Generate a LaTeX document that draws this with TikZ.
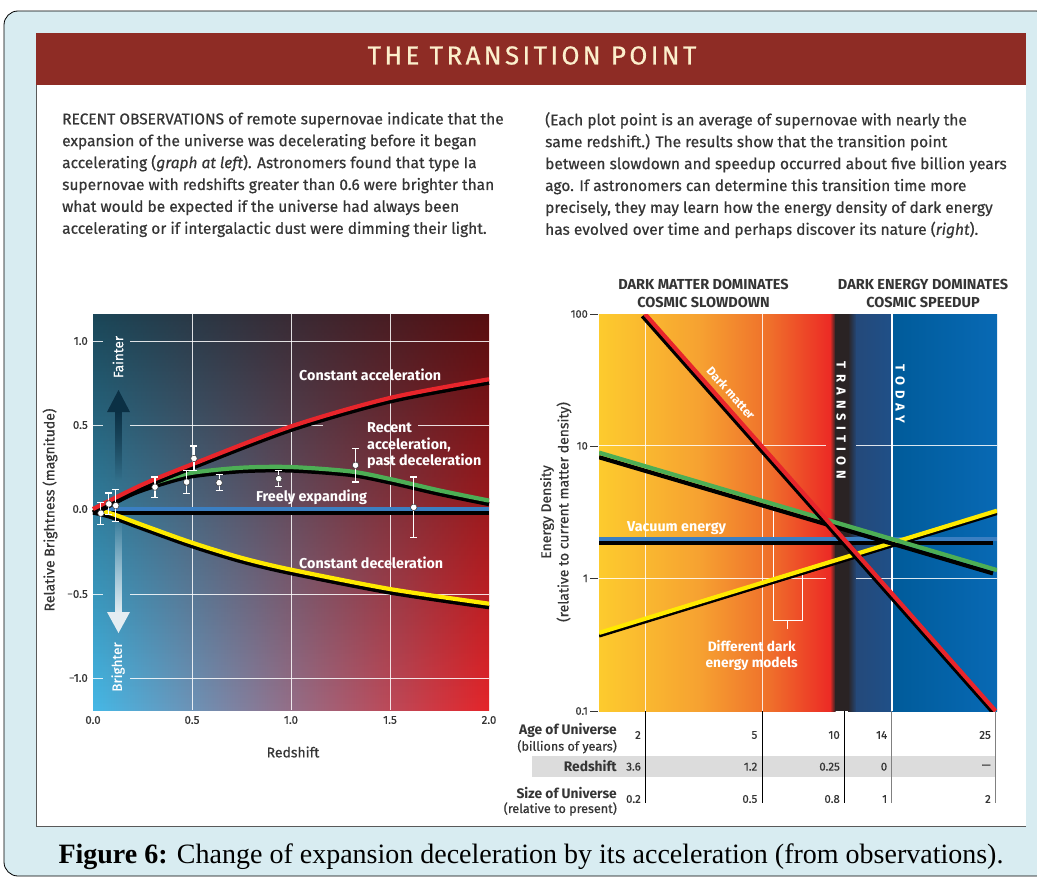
\documentclass[tikz,border=0pt]{standalone}
\usepackage{fontspec}
\setmainfont{Fira Sans}[UprightFeatures={FakeBold=0.6}, ItalicFeatures={FakeBold=0.6}]
\newfontfamily\captionfont{Liberation Serif}
\usepackage{tikz}
\usetikzlibrary{positioning, calc, fadings}

\definecolor{panelblue}{HTML}{D8ECF1}
\definecolor{titlebar}{HTML}{8E2C25}
\definecolor{titletext}{HTML}{FCEFCC}
\definecolor{ink}{HTML}{353535}
\definecolor{acccol}{HTML}{E8252B}
\definecolor{mixcol}{HTML}{4DAE55}
\definecolor{flatcol}{HTML}{3B7FC2}
\definecolor{deccol}{HTML}{FFEA00}
\definecolor{faintcol}{HTML}{0B3044}
\definecolor{brightcol}{HTML}{E4EDF2}
\definecolor{tablegrey}{HTML}{DCDCDC}
\definecolor{lblue}{HTML}{45B8E6}
\definecolor{lmid}{HTML}{A8968F}
\definecolor{lred}{HTML}{E5252A}
\definecolor{gyellow}{HTML}{FDCB2E}
\definecolor{gorange}{HTML}{F6A131}
\definecolor{gdeep}{HTML}{EF6F2B}
\definecolor{gred}{HTML}{EC2A25}
\definecolor{gband}{HTML}{2A2324}
\definecolor{gnavy}{HTML}{24497A}
\definecolor{gnavytwo}{HTML}{1F5088}
\definecolor{gblue}{HTML}{005B9A}
\definecolor{gbluetwo}{HTML}{0869B4}

\tikzfading[name=fadedown, top color=transparent!0, bottom color=transparent!100]
\tikzfading[name=fadeup, top color=transparent!100, bottom color=transparent!0]

\tikzstyle{bodytext} = [anchor=north west, inner sep=0pt, align=left, text=ink, font=\fontsize{15.5}{21.9}\selectfont]
\tikzstyle{gridline} = [white, line width=0.9pt, opacity=0.85]
\tikzstyle{blackunder} = [black, line width=4.2pt]
\tikzstyle{plotline} = [line width=4.2pt]
\tikzstyle{ticklabel} = [inner sep=0pt, text=ink, font=\fontsize{11.5}{13}\selectfont]
\tikzstyle{axistitle} = [inner sep=0pt, text=ink, font=\fontsize{14}{16}\selectfont]
\tikzstyle{curvelabel} = [inner sep=0pt, text=white, font=\bfseries\fontsize{14.3}{16.4}\selectfont]
\tikzstyle{errbar} = [white, line width=1.1pt]
\tikzstyle{snpoint} = [circle, fill=white, draw=ink, line width=0.5pt, inner sep=0pt, minimum size=6.5pt]
\tikzstyle{heading} = [inner sep=0pt, align=center, text=ink, font=\bfseries\fontsize{14.5}{17.7}\selectfont]
\tikzstyle{rowhead} = [inner sep=0pt, anchor=east, text=ink, font=\bfseries\fontsize{13.8}{15}\selectfont]
\tikzstyle{rowsub} = [inner sep=0pt, anchor=east, text=ink, font=\fontsize{12.6}{14}\selectfont]
\tikzstyle{cell} = [inner sep=0pt, anchor=east, text=ink, font=\fontsize{11.5}{13}\selectfont]
\tikzstyle{spaced} = [inner sep=0pt, text=white, rotate=-90, font=\bfseries\fontsize{13}{15}\selectfont\addfontfeature{LetterSpace=40}]

\begin{document}
\begin{tikzpicture}[x=1pt, y=-1pt]
\useasboundingbox (0,0) rectangle (1037,878);
% frame and panel
\draw[black, line width=0.8pt, fill=panelblue, rounded corners=14pt] (4,11) rectangle (1050,876);
\fill[white] (36,33) rectangle (1026,826);
\draw[gray!70!black, line width=0.8pt] (36,33) -- (36,826) -- (1026,826);
\fill[titlebar] (36,33) rectangle (1026,85);
\node[text=titletext, font=\fontsize{26}{30}\selectfont\addfontfeature{LetterSpace=13, FakeBold=1.2}] (title) at (532,55.5) {THE TRANSITION POINT};

% text columns
\node[bodytext] (lefttext) at (62,112) {RECENT OBSERVATIONS of remote supernovae indicate that the\\
expansion of the universe was decelerating before it began\\
accelerating (\textit{graph at left}). Astronomers found that type Ia\\
supernovae with redshifts greater than 0.6 were brighter than\\
what would be expected if the universe had always been\\
accelerating or if intergalactic dust were dimming their light.};
\node[bodytext] (righttext) at (545,112) {(Each plot point is an average of supernovae with nearly the\\
same redshift.) The results show that the transition point\\
between slowdown and speedup occurred about five billion years\\
ago. If astronomers can determine this transition time more\\
precisely, they may learn how the energy density of dark energy\\
has evolved over time and perhaps discover its nature (\textit{right}).};

% left graph
\shade[left color=lblue, middle color=lmid, right color=lred] (93,314) rectangle (489,710);
\fill[black, opacity=0.62, path fading=fadedown] (93,314) rectangle (489,710);
\foreach \gx in {192,291,390}
  \draw[gridline] (\gx,314) -- (\gx,710);
\foreach \gy in {341,594,678} {
  \draw[gridline] (93,\gy) -- (103,\gy);
  \draw[gridline] (130,\gy) -- (489,\gy);
}
\draw[gridline] (93,425) -- (103,425);
\draw[gridline] (130,425) -- (323,425);
\draw[gridline] (418,425) -- (489,425);

\foreach \v/\gy in {1.0/341, 0.5/425, 0.0/509, −0.5/594, −1.0/678}
  \node[ticklabel, anchor=east] (ly\gy) at (88,\gy) {\v};
\foreach \v/\gx in {0.0/93, 0.5/192, 1.0/291, 1.5/390, 2.0/489}
  \node[ticklabel] (lx\gx) at (\gx,720) {\v};
\node[axistitle, rotate=90] (ytitle) at (50,510) {Relative Brightness (magnitude)};
\node[axistitle] (xtitle) at (293,752) {Redshift};

% fainter / brighter
\fill[faintcol, path fading=fadedown] (115,410) rectangle (122,480);
\fill[faintcol] (107,412) -- (130,412) -- (118.5,390) -- cycle;
\fill[brightcol, path fading=fadeup] (115,518) rectangle (122,614);
\fill[brightcol] (107,612) -- (130,612) -- (118.5,633) -- cycle;
\node[inner sep=0pt, text=white, rotate=90, font=\fontsize{13.5}{15}\selectfont] (fainter) at (118,357) {Fainter};
\node[inner sep=0pt, text=white, rotate=90, font=\fontsize{13.5}{15}\selectfont] (brighter) at (118,667) {Brighter};

\begin{scope}[shift={(93,509)}, x=198pt, y=168.5pt]
  \draw[blackunder, yshift=-3.5pt] (0,0) -- (2,0);
  \draw[plotline, flatcol] (0,0) -- (2,0);
  \draw[blackunder, yshift=-3.5pt] plot[smooth] coordinates {(0,0) (0.1,-0.03) (0.25,-0.095) (0.5,-0.2) (0.75,-0.29) (1.0,-0.36) (1.5,-0.475) (2.0,-0.562)};
  \draw[plotline, deccol] plot[smooth] coordinates {(0,0) (0.1,-0.03) (0.25,-0.095) (0.5,-0.2) (0.75,-0.29) (1.0,-0.36) (1.5,-0.475) (2.0,-0.562)};
  \draw[blackunder, yshift=-3.5pt] plot[smooth] coordinates {(0,0) (0.05,0.02) (0.2,0.11) (0.35,0.17) (0.5,0.215) (0.75,0.245) (1.0,0.249) (1.3,0.223) (1.5,0.178) (1.75,0.11) (2.0,0.05)};
  \draw[plotline, mixcol] plot[smooth] coordinates {(0,0) (0.05,0.02) (0.2,0.11) (0.35,0.17) (0.5,0.215) (0.75,0.245) (1.0,0.249) (1.3,0.223) (1.5,0.178) (1.75,0.11) (2.0,0.05)};
  \draw[blackunder, yshift=-3.5pt] plot[smooth] coordinates {(0,0) (0.25,0.145) (0.5,0.265) (1.0,0.49) (1.5,0.659) (2.0,0.77)};
  \draw[plotline, acccol] plot[smooth] coordinates {(0,0) (0.25,0.145) (0.5,0.265) (1.0,0.49) (1.5,0.659) (2.0,0.77)};
  % supernova averages
  \foreach \z/\m/\e [count=\i] in {0.04/-0.025/0.066, 0.08/0.03/0.065, 0.115/0.02/0.095, 0.313/0.13/0.06, 0.473/0.16/0.07, 0.51/0.30/0.074, 0.637/0.156/0.048, 0.938/0.18/0.048, 1.326/0.26/0.10, 1.62/0.01/0.18} {
    \draw[errbar] (\z,\m-\e) -- (\z,\m+\e);
    \draw[errbar] (\z,\m-\e) ++(-3.5pt,0pt) -- ++(7pt,0pt);
    \draw[errbar] (\z,\m+\e) ++(-3.5pt,0pt) -- ++(7pt,0pt);
    \node[snpoint] (sn\i) at (\z,\m) {};
  }
\end{scope}

\node[curvelabel, anchor=west] (acclabel) at (299,375) {Constant acceleration};
\node[curvelabel, anchor=west, align=left] (mixlabel) at (367,446) {Recent\\acceleration,\\past deceleration};
\node[curvelabel, anchor=west] (flatlabel) at (256,497) {Freely expanding};
\node[curvelabel, anchor=west] (declabel) at (299,563) {Constant deceleration};

% right graph
\shade[left color=gyellow, right color=gorange] (599,314) rectangle (700.5,711);
\shade[left color=gorange, right color=gdeep] (700,314) rectangle (770.5,711);
\shade[left color=gdeep, right color=gred] (770,314) rectangle (830.5,711);
\shade[left color=gred, right color=gband] (830,314) rectangle (835.5,711);
\fill[gband] (835,314) rectangle (848.5,711);
\shade[left color=gband, right color=gnavy] (848,314) rectangle (856.5,711);
\shade[left color=gnavy, right color=gnavytwo] (856,314) rectangle (892.5,711);
\shade[left color=gblue, right color=gbluetwo] (892,314) rectangle (997,711);

\foreach \gx in {645.6,762.2}
  \draw[gridline] (\gx,314) -- (\gx,711);
\draw[white, line width=1.6pt] (891.9,314) -- (891.9,711);
\foreach \gy in {445.9,578.4} {
  \draw[gridline] (599,\gy) -- (826,\gy);
  \draw[gridline] (856,\gy) -- (997,\gy);
}
\foreach \v/\gy in {100/314, 10/445.9, 1/578.4, 0.1/711} {
  \node[ticklabel, anchor=east, font=\fontsize{11}{13}\selectfont] (ry\v) at (588,\gy) {\v};
  \draw[ink, line width=0.8pt] (590,\gy) -- (598,\gy);
}
\node[axistitle, rotate=90] (edtitle) at (547,512) {Energy Density};
\node[axistitle, rotate=90] (edsub) at (564,512) {(relative to current matter density)};
\node[heading] (slowhead) at (703.5,293.5) {DARK MATTER DOMINATES\\COSMIC SLOWDOWN};
\node[heading] (speedhead) at (923,293.5) {DARK ENERGY DOMINATES\\COSMIC SPEEDUP};

% models bracket
\draw[white, line width=1.1pt] (773.6,505) -- (773.6,620.2) -- (802.4,620.2) -- (802.4,571.8);
\draw[white, line width=1.1pt] (787.8,620.2) -- (787.8,628.5);
\node[curvelabel, align=center, font=\bfseries\fontsize{13.7}{16}\selectfont] (modellabel) at (751.7,655) {Different dark\\energy models};

\begin{scope}
  \clip (599,314) rectangle (997,711);
  \draw[blackunder] (599,542.5) -- (993,542.5);
  \draw[plotline, flatcol] (599,538.7) -- (997,538.7);
  \draw[blackunder] (599,635.5) -- (997,513);
  \draw[plotline, deccol] (599,632.9) -- (997,510.7);
  \draw[blackunder] (599,457.2) -- (993,573.4);
  \draw[plotline, mixcol] (599,452.6) -- (997,570.1);
  \draw[blackunder] (642.5,316) -- (993.6,713);
  \draw[plotline, acccol] (645,314) -- (995.6,711);
\end{scope}
\node[curvelabel, rotate=-48.5, font=\bfseries\fontsize{12}{14}\selectfont] (dmlabel) at (731,393) {Dark matter};
\node[curvelabel, anchor=west] (vaclabel) at (627,528.4) {Vacuum energy};
\node[spaced] (translabel) at (841,420.7) {TRANSITION};
\node[spaced] (todaylabel) at (900,394) {TODAY};

% table under the right graph
\fill[tablegrey] (532,755.7) rectangle (995,776.7);
\foreach \cx/\cc in {645.6/black, 762.2/black, 844.6/black, 891.9/gray, 995.6/gray}
  \draw[\cc, line width=1pt] (\cx,711) -- (\cx,803);
\node[rowhead] (agehead) at (617,730) {Age of Universe};
\node[rowsub] (agesub) at (617,746.7) {(billions of years)};
\node[rowhead] (zhead) at (617,766.5) {Redshift};
\node[rowhead] (sizehead) at (617,793) {Size of Universe};
\node[rowsub] (sizesub) at (617,809) {(relative to present)};
\foreach \cx/\a/\r/\s [count=\k] in {641/2/3.6/0.2, 757.5/5/1.2/0.5, 840/10/0.25/0.8, 887.4/14/0/1, 991/25/—/2} {
  \node[cell] (age\k) at (\cx,735) {\a};
  \node[cell] (red\k) at (\cx,766.7) {\r};
  \node[cell] (size\k) at (\cx,799) {\s};
}

% caption
\node[text=black, font=\captionfont\fontsize{28}{32}\selectfont] (caption) at (531,857) {\textbf{Figure 6:} Change of expansion deceleration by its acceleration (from observations).};
\end{tikzpicture}
\end{document}
